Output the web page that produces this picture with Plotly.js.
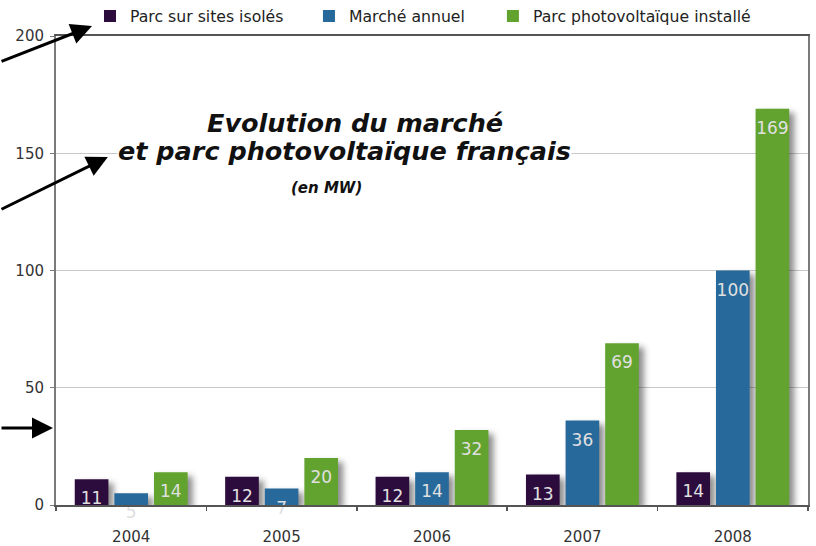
<!DOCTYPE html>
<html>
<head>
<meta charset="utf-8">
<script src="https://cdn.plot.ly/plotly-3.0.1.min.js"></script>
<style>
  html, body { margin: 0; padding: 0; background: #ffffff; }
  #chart { width: 816px; height: 546px; }
  .barlayer .point path { filter: drop-shadow(5px 4px 3px rgba(0,0,0,0.45)); }
  .barlayer .bartext { translate: 0px 6px; }
</style>
</head>
<body>
<div id="chart"></div>
<script>
// ---- Data ----
const years = ['2004', '2005', '2006', '2007', '2008'];
const parcSitesIsoles = [11, 12, 12, 13, 14];
const marcheAnnuel = [5, 7, 14, 36, 100];
const parcInstalle = [14, 20, 32, 69, 169];
const seriesNames = ['Parc sur sites isolés', 'Marché annuel', 'Parc photovoltaïque installé'];
const yTickValues = [0, 50, 100, 150, 200];
const titleLines = ['Evolution du marché', 'et parc photovoltaïque français', '(en MW)'];

// ---- Styles ----
const colors = ['#2c0b3d', '#27699a', '#62a32f'];
const labelFont = { family: 'DejaVu Sans, sans-serif', size: 17, color: '#e0e0e0' };
const legendFont = { family: 'DejaVu Sans, sans-serif', size: 15.7, color: '#222222' };

function barTrace(name, values, color, legendId) {
  return {
    type: 'bar',
    name: name,
    legend: legendId,
    x: years,
    y: values,
    marker: { color: color, line: { width: 0 } },
    texttemplate: '%{y}',
    textposition: 'inside',
    insidetextanchor: 'end',
    textangle: 0,
    constraintext: 'none',
    cliponaxis: false,
    textfont: labelFont,
    hoverinfo: 'skip'
  };
}

const data = [
  barTrace(seriesNames[0], parcSitesIsoles, colors[0], 'legend'),
  barTrace(seriesNames[1], marcheAnnuel, colors[1], 'legend2'),
  barTrace(seriesNames[2], parcInstalle, colors[2], 'legend3')
];

// plot area: x 56..808, y 36..505
const titleFont = { family: 'DejaVu Sans, sans-serif', size: 25.5, color: '#111111', weight: 'bold', style: 'italic' };

const annotations = [
  { xref: 'paper', yref: 'paper', x: 0.384, y: 0.755, xanchor: 'center', yanchor: 'middle',
    text: titleLines[1], showarrow: false, font: titleFont, bgcolor: '#ffffff', borderpad: 0 },
  { xref: 'paper', yref: 'paper', x: 0.397, y: 0.8145, xanchor: 'center', yanchor: 'middle',
    text: titleLines[0], showarrow: false, font: titleFont },
  { xref: 'paper', yref: 'paper', x: 0.36, y: 0.676, xanchor: 'center', yanchor: 'middle',
    text: titleLines[2], showarrow: false,
    font: { family: 'DejaVu Sans, sans-serif', size: 15, color: '#111111', weight: 'bold', style: 'italic' } },
  // arrows
  { xref: 'paper', yref: 'paper', x: 0.0479, y: 1.0213, ax: -92, ay: 36, text: '',
    showarrow: true, arrowhead: 2, arrowsize: 1.4, arrowwidth: 3, arrowcolor: '#000000' },
  { xref: 'paper', yref: 'paper', x: 0.069, y: 0.742, ax: -108, ay: 53, text: '',
    showarrow: true, arrowhead: 2, arrowsize: 1.4, arrowwidth: 3, arrowcolor: '#000000' },
  { xref: 'paper', yref: 'paper', x: -0.004, y: 0.164, ax: -53, ay: 0, text: '',
    showarrow: true, arrowhead: 2, arrowsize: 1.4, arrowwidth: 3, arrowcolor: '#000000' }
];

function legendAt(xPos) {
  return {
    orientation: 'h',
    x: xPos, xanchor: 'left',
    y: 1.042, yanchor: 'middle',
    font: legendFont,
    bgcolor: 'rgba(0,0,0,0)'
  };
}

const layout = {
  width: 816,
  height: 546,
  margin: { l: 56, r: 8, t: 36, b: 41, pad: 0, autoexpand: false },
  paper_bgcolor: '#ffffff',
  plot_bgcolor: '#ffffff',
  barmode: 'group',
  bargap: 0.21,
  bargroupgap: 0.15,
  showlegend: true,
  legend: legendAt(0.0452),
  legend2: legendAt(0.3364),
  legend3: legendAt(0.581),
  xaxis: {
    type: 'category',
    range: [-0.5, 4.5],
    showgrid: false,
    zeroline: false,
    showline: true,
    linecolor: '#555555',
    linewidth: 2,
    mirror: true,
    ticks: 'outside',
    tickson: 'boundaries',
    ticklen: 4,
    tickcolor: '#555555',
    tickwidth: 1.5,
    ticklabelstandoff: 17,
    tickfont: { family: 'DejaVu Sans, sans-serif', size: 15, color: '#333333' },
    fixedrange: true
  },
  yaxis: {
    range: [0, 200],
    tickvals: yTickValues,
    showgrid: true,
    gridcolor: '#c8c8c8',
    gridwidth: 1.2,
    zeroline: false,
    showline: true,
    linecolor: '#7a7a7a',
    linewidth: 2,
    mirror: true,
    ticks: 'outside',
    ticklen: 4,
    tickcolor: '#7a7a7a',
    ticklabelstandoff: 3,
    tickfont: { family: 'DejaVu Sans, sans-serif', size: 15, color: '#333333' },
    fixedrange: true
  },
  annotations: annotations,
  hovermode: false
};

Plotly.newPlot('chart', data, layout, { displayModeBar: false, staticPlot: true });
</script>
</body>
</html>
